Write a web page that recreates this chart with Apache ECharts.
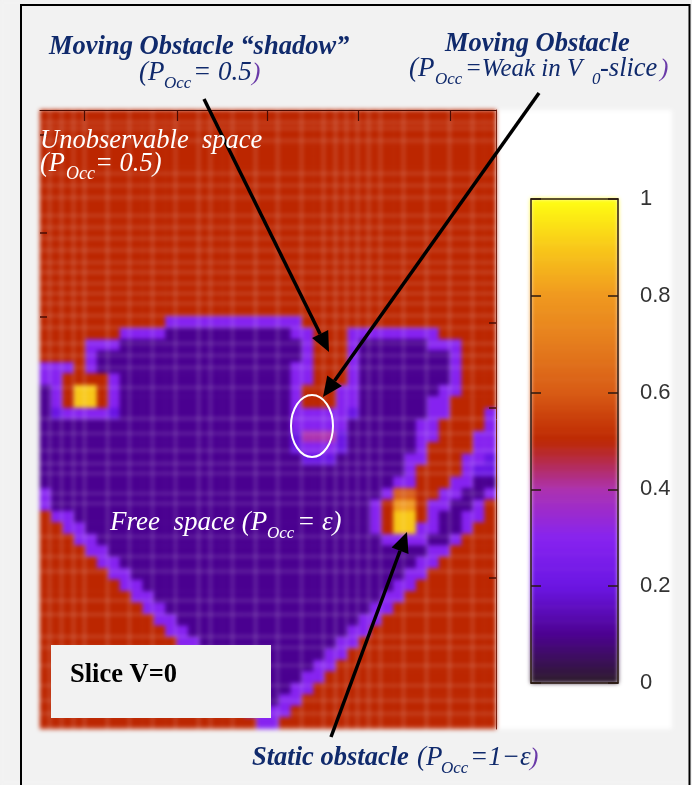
<!DOCTYPE html>
<html><head><meta charset="utf-8">
<style>html,body{margin:0;padding:0;background:#f2f2f2}#c{width:692px;height:785px}
canvas[data-zr-dom-id="zr_0"]{filter:blur(2px)}</style>
<script src="https://cdn.jsdelivr.net/npm/echarts@6/dist/echarts.min.js"></script>
</head><body><div id="c"></div>
<script>
// Occupancy map, run-length rows "value-in-tenths:count", top row first
const occupancyRows = [
'5:40','5:40','5:40','5:40','5:40','5:40','5:40','5:40','5:40',
'5:40','5:40','5:40','5:40','5:40','5:40','5:40','5:40','5:40',
'5:11 3:12 5:17',
'5:7 3:4 1:11 3:2 5:3 3:8 5:5',
'5:4 3:3 1:16 3:1 5:3 3:1 1:6 3:3 5:3',
'5:4 3:1 1:18 3:1 5:3 3:1 1:8 3:1 5:3',
'3:3 5:1 3:1 1:17 3:2 5:3 3:1 1:8 3:1 5:3',
'3:2 5:4 3:1 1:15 3:2 5:3 3:1 1:8 3:1 5:3',
'1:1 3:1 5:1 9:2 5:1 3:1 1:15 3:1 5:3 3:2 1:7 3:2 5:3',
'1:1 3:1 5:1 9:2 5:1 3:1 1:15 3:1 5:3 3:2 1:6 3:2 5:4',
'1:1 2:1 3:4 2:1 1:15 3:5 2:1 1:6 3:2 5:3 3:1',
'1:22 3:5 1:6 3:2 5:4 3:1',
'1:22 2:1 4:3 2:1 1:6 3:2 5:3 3:2',
'1:22 2:1 3:3 2:1 1:6 3:1 5:4 3:2',
'1:23 2:3 1:6 3:2 5:3 3:2 2:1',
'1:32 3:1 5:4 3:1 2:2',
'1:31 3:2 5:3 3:2 1:2',
'3:1 1:29 3:1 6:2 5:2 3:2 1:2 3:1',
'3:1 1:28 3:1 5:1 8:2 5:1 3:2 1:2 3:1 5:1',
'5:1 3:2 1:26 3:1 5:1 9:2 5:1 3:1 1:2 3:2 5:1',
'5:2 3:2 1:25 3:1 5:1 9:2 3:2 1:2 3:1 5:2',
'5:3 3:2 1:25 3:4 1:2 3:1 5:3',
'5:4 3:2 1:28 3:2 5:4',
'5:5 3:2 1:26 3:2 5:5',
'5:6 3:2 1:24 3:2 5:6',
'5:7 3:2 1:22 3:2 5:7',
'5:8 3:2 1:20 3:2 5:8',
'5:9 3:2 1:18 3:2 5:9',
'5:10 3:2 1:16 3:2 5:10',
'5:11 3:2 1:14 3:2 5:11',
'5:12 3:2 1:12 3:2 5:12',
'5:13 3:2 1:10 3:2 5:13',
'5:14 3:2 1:8 3:2 5:14',
'5:15 3:2 1:6 3:2 5:15',
'5:16 3:2 1:4 3:2 5:16',
'5:17 3:2 1:2 3:2 5:17',
'5:18 3:4 5:18',
'5:19 3:2 5:19'
];
const colorStops = ['#2a1a28','#4a0090','#6a14e4','#8622f0','#ac30b0','#bc2600','#d85a14','#e57c1c','#f0981e','#f8c818','#ffff10'];
const gridLinesX = [9,21,33,44,67,89,112,135,158,170,192,215,237,261,283,295,306,317,328,340,363,386,409,432];
const gridLinesY = [12,18,30,63,75,87,105,117,128,140,152,162,173,183,193,205,217,233,245,257,277,308,323,340,353,363,383,393,426,446,461,490,504,526,537,555,575,590,603,617,633,648,663,678,690,705];
const plotTicksX = [44,137,227,318,410];
const plotTicksY = [25,123,207];
const plotTicksYRight = [213,298,468];

const heat = [];
occupancyRows.forEach((row,r)=>{ let c=0;
  row.split(' ').forEach(run=>{ const [v,n]=run.split(':').map(Number);
    for(let i=0;i<n;i++) heat.push([c++,r,v/10]); });
});
const nRows = occupancyRows.length;
const levels = Array.from({length:64},(_,i)=>i);
const barData = levels.map(i=>[0,63-i,(i+0.5)/64]);

const NAVY='#102a6c', SERIF='"Liberation Serif"';
function t(x,y,text,size,color,opt){ opt=opt||{};
  return {type:'text',zlevel:1,z:50,x:x,y:y-size*0.89+4,scaleX:opt.sx||1,style:{text:text,fill:color,
    font:(opt.w||'italic')+' '+size+'px '+SERIF,textAlign:'left',verticalAlign:'top'}};
}
function arrow(x1,y1,x2,y2,hl,hw){
  const d=Math.hypot(x2-x1,y2-y1),ux=(x2-x1)/d,uy=(y2-y1)/d,bx=x2-ux*hl,by=y2-uy*hl;
  return [
   {type:'line',zlevel:1,z:40,shape:{x1:x1,y1:y1,x2:bx,y2:by},style:{stroke:'#000',lineWidth:3.5}},
   {type:'polygon',zlevel:1,z:40,shape:{points:[[x2,y2],[bx-uy*hw,by+ux*hw],[bx+uy*hw,by-ux*hw]]},style:{fill:'#000'}}
  ];
}
const W='#ffffff';
const graphics = [
 {type:'rect',z:-10,silent:true,shape:{x:40,y:110,width:632,height:619},style:{fill:'#ffffff'}},
 {type:'polyline',zlevel:1,z:60,shape:{points:[[21,790],[21,5],[689.5,5],[689.5,790]]},style:{stroke:'#000',lineWidth:2,fill:null}},
 {type:'ellipse',zlevel:1,z:40,shape:{cx:312,cy:426,rx:21,ry:31},style:{stroke:'#fff',lineWidth:2,fill:null}},
 {type:'rect',zlevel:1,z:40,shape:{x:51,y:645,width:220,height:73},style:{fill:'#f2f2f2'}},
 ...arrow(204,99,329,352,20,9),
 ...arrow(539,93,323,397,20,9),
 ...arrow(331,737,407,532,20,9),
 t(70,681,'Slice V=0',26.5,'#000',{w:'bold'}),
 t(49,53,'Moving Obstacle “shadow”',26.5,NAVY,{w:'italic bold'}),
 t(139,79,'(P',27,NAVY),t(164,86,'Occ',17,NAVY),t(193,79,'= 0.5',27,NAVY),t(252,79,')',25,'#6a3aa8'),
 t(445,50,'Moving Obstacle',26.5,NAVY,{w:'italic bold'}),
 t(409,75,'(P',27,NAVY),t(435,82,'Occ',17,NAVY),t(465,75,'=Weak in V',25,NAVY),t(592,82,'0',17,NAVY),t(600,75,'-slice',26.5,NAVY),t(660,75,')',25,'#6a3aa8'),
 t(40,147,'Unobservable  space',26.5,W),
 t(40,170,'(P',26.5,W),t(66,177,'Occ',18,W),t(95,170,'= 0.5)',26.5,W),
 t(110,529,'Free  space (P',27,W),t(267,536,'Occ',17,W),t(297,529,'= ε)',27,W),
 t(252,764,'Static obstacle',26.5,NAVY,{w:'italic bold'}),
 t(417,764,'(P',27,NAVY),t(441,771,'Occ',17,NAVY),t(470,764,'=1−ε',27,NAVY),t(530,764,')',25,'#6a3aa8')
];

const chart = echarts.init(document.getElementById('c'),null,{renderer:'canvas'});
chart.setOption({
 backgroundColor:'#f2f2f2',animation:false,
 grid:[{left:40,top:110,width:456,height:619},{left:531,top:199,width:87,height:484}],
 visualMap:{show:false,min:0,max:1,seriesIndex:[0,1],dimension:2,inRange:{color:colorStops}},
 xAxis:[
  {type:'category',gridIndex:0,show:false,data:Array.from({length:40},(_,i)=>i)},
  {type:'value',gridIndex:0,zlevel:1,min:0,max:456,interval:456,position:'top',splitLine:{show:false},axisLabel:{show:false},
   axisLine:{show:true,lineStyle:{color:'#4a0a00',width:1}},
   axisTick:{show:true,inside:true,length:11,customValues:plotTicksX,lineStyle:{color:'#4a0c04',width:1.2}}},
  {type:'category',gridIndex:1,show:false,data:[0]},
  {type:'value',gridIndex:1,zlevel:1,min:0,max:1,position:'top',axisLabel:{show:false},axisTick:{show:false},splitLine:{show:false},axisLine:{show:true,onZero:false,lineStyle:{color:'#2a1810',width:1.5}}},
  {type:'value',gridIndex:1,zlevel:1,min:0,max:1,position:'bottom',axisLabel:{show:false},axisTick:{show:false},splitLine:{show:false},axisLine:{show:true,onZero:false,lineStyle:{color:'#2a1810',width:1.5}}}
 ],
 yAxis:[
  {type:'category',gridIndex:0,show:false,inverse:true,data:Array.from({length:nRows},(_,i)=>i)},
  {type:'value',gridIndex:0,zlevel:1,min:0,max:619,inverse:true,position:'left',splitLine:{show:false},axisLabel:{show:false},
   axisLine:{show:false},axisTick:{show:true,inside:true,length:7,customValues:plotTicksY,lineStyle:{color:'#4a0c04',width:1.5}}},
  {type:'value',gridIndex:0,zlevel:1,min:0,max:619,inverse:true,position:'right',splitLine:{show:false},axisLabel:{show:false},
   axisLine:{show:true,onZero:false,lineStyle:{color:'#7a2010',width:1}},axisTick:{show:true,inside:true,length:7,customValues:plotTicksYRight,lineStyle:{color:'#4a0c04',width:1.5}}},
  {type:'category',gridIndex:1,show:false,inverse:true,data:levels},
  {type:'value',gridIndex:1,zlevel:1,min:0,max:1,interval:0.2,position:'right',splitLine:{show:false},
   axisLine:{show:true,onZero:false,lineStyle:{color:'#2a1810',width:1.5}},
   axisTick:{show:true,inside:true,length:10,lineStyle:{color:'#2a1810',width:1.5}},
   axisLabel:{show:true,margin:22,color:'#333',fontSize:22,fontFamily:'"Liberation Sans"',formatter:v=>String(v)}},
  {type:'value',gridIndex:1,zlevel:1,min:0,max:1,interval:0.2,position:'left',splitLine:{show:false},axisLabel:{show:false},
   axisLine:{show:true,onZero:false,lineStyle:{color:'#2a1810',width:1.5}},
   axisTick:{show:true,inside:true,length:10,lineStyle:{color:'#2a1810',width:1.5}}}
 ],
 series:[
  {type:'heatmap',xAxisIndex:0,yAxisIndex:0,data:heat,silent:true,progressive:0,z:1},
  {type:'heatmap',xAxisIndex:2,yAxisIndex:3,data:barData,silent:true,z:1,
   itemStyle:{borderColor:'rgba(255,210,170,0.12)',borderWidth:0.5}},
  {type:'line',xAxisIndex:1,yAxisIndex:1,data:[],silent:true,zlevel:1,z:5,symbol:'none',
   markLine:{silent:true,symbol:'none',animation:false,label:{show:false},
    lineStyle:{color:'rgba(255,255,255,0.4)',width:1.1,type:'solid'},
    data:[...gridLinesX.map(v=>({xAxis:v})),...gridLinesY.map(v=>({yAxis:v}))]}}
 ],
 graphic:graphics
});
</script></body></html>
